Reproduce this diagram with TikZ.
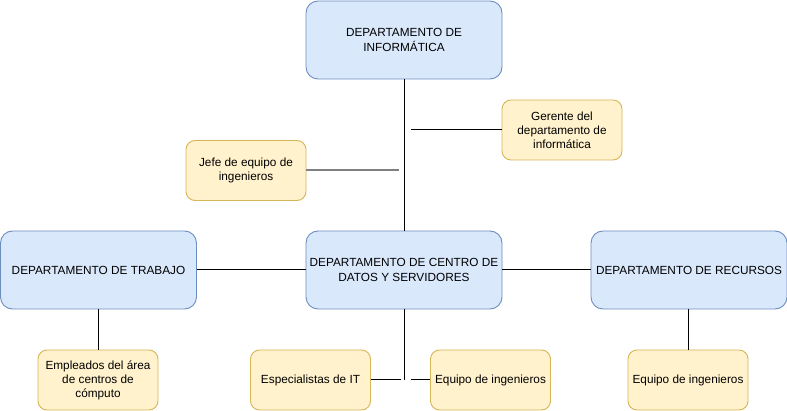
\documentclass[tikz,border=0pt]{standalone}
\usepackage{fontspec}
\setmainfont{Liberation Sans}
\usepackage{xcolor}
\usetikzlibrary{positioning}

\definecolor{deptfill}{HTML}{DAE8FC}
\definecolor{deptline}{HTML}{6C8EBF}
\definecolor{rolefill}{HTML}{FFF2CC}
\definecolor{roleline}{HTML}{D6B656}

\tikzset{
  dept/.style={draw=deptline,fill=deptfill,rounded corners=12pt,line width=0.9pt,
    minimum width=196pt,minimum height=78pt,align=center,inner sep=1pt,
    font=\fontsize{11.8}{14.5}\selectfont},
  role/.style={draw=roleline,fill=rolefill,rounded corners=9pt,line width=0.9pt,
    minimum width=120pt,minimum height=60pt,align=center,inner sep=1pt,
    font=\fontsize{11.8}{14}\selectfont},
  link/.style={line width=1pt,black}
}

\begin{document}
\begin{tikzpicture}[x=1pt,y=-1pt]
  \useasboundingbox (0,0) rectangle (787,411);
  % departamentos
  \node[dept] (info) at (404,40) {DEPARTAMENTO DE\\INFORMÁTICA};
  \node[dept] (centro) at (404,270) {DEPARTAMENTO DE CENTRO DE\\DATOS Y SERVIDORES};
  \node[dept] (trabajo) at (98.5,270) {DEPARTAMENTO DE TRABAJO};
  \node[dept] (recursos) at (689,270) {DEPARTAMENTO DE RECURSOS};
  % cargos
  \node[role] (gerente) at (562,130) {Gerente del\\departamento de\\informática};
  \node[role] (jefe) at (246,170.5) {Jefe de equipo de\\ingenieros};
  \node[role] (empleados) at (98,380) {Empleados del área\\de centros de\\cómputo};
  \node[role] (especialistas) at (310.5,380) {Especialistas de IT};
  \node[role] (equipoc) at (490.5,380) {Equipo de ingenieros};
  \node[role] (equipor) at (688,380) {Equipo de ingenieros};
  \coordinate (gerin) at (411,130);
  \coordinate (jefin) at (399,170);
  \coordinate (bajo) at (404,380);
  \coordinate (espin) at (401,380);
  \coordinate (equin) at (411,380);
  % conexiones
  \draw[link] (info.south) -- (centro.north);
  \draw[link] (gerin) -- (gerente.west);
  \draw[line width=1.3pt,gray] (jefe.east |- jefin) -- (jefin);
  \draw[link] (trabajo.east) -- (centro.west);
  \draw[link] (centro.east) -- (recursos.west);
  \draw[link] (trabajo.south -| empleados.north) -- (empleados.north);
  \draw[link] (recursos.south -| equipor.north) -- (equipor.north);
  \draw[link] (centro.south) -- (bajo);
  \draw[link] (especialistas.east) -- (espin);
  \draw[link] (equin) -- (equipoc.west);
\end{tikzpicture}
\end{document}
